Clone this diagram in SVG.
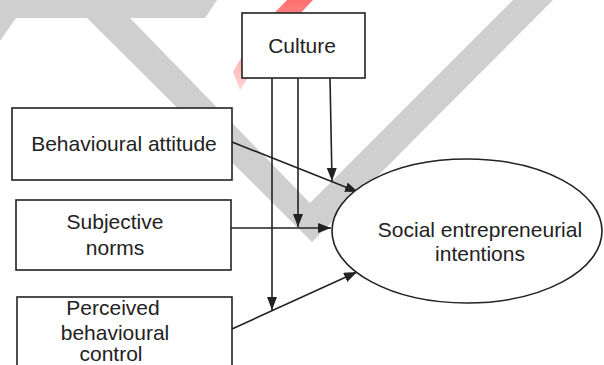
<svg xmlns="http://www.w3.org/2000/svg" width="604" height="365" viewBox="0 0 604 365">
<style>
.box{fill:#fff;stroke:#222;stroke-width:1.6}
.lbl{font-family:"Liberation Sans",Arial,sans-serif;font-size:21px;fill:#222;text-anchor:middle}
.con{stroke:#222;stroke-width:1.6;fill:none}
.wm{fill:#cfcfcf}
</style>
<defs>
<marker id="arr" markerUnits="userSpaceOnUse" markerWidth="14" markerHeight="11" refX="13" refY="5" orient="auto">
<path d="M0,0 L13,5 L0,10 z" fill="#222"/>
</marker>
<linearGradient id="red" x1="0" y1="1" x2="0" y2="0">
<stop offset="0" stop-color="#ffd6d6"/>
<stop offset="1" stop-color="#ff7070"/>
</linearGradient>
</defs>
<g id="watermark">
<polygon class="wm" points="0,0 217,0 205,18 0,18"/>
<polygon class="wm" points="0,41 16,18 0,18"/>
<polygon class="wm" points="87,18 130,18 310,203 513,0 553,0 312,242"/>
<polygon points="240,90 233,72 256,32 287,0 313,0 268,48" fill="url(#red)"/>
</g>
<g id="connectors">
<line class="con" x1="272" y1="78" x2="272" y2="310" marker-end="url(#arr)"/>
<line class="con" x1="298" y1="78" x2="298" y2="227" marker-end="url(#arr)"/>
<line class="con" x1="330" y1="78" x2="332" y2="181" marker-end="url(#arr)"/>
<line class="con" x1="232" y1="142" x2="358" y2="192" marker-end="url(#arr)"/>
<line class="con" x1="231" y1="228" x2="331" y2="228" marker-end="url(#arr)"/>
<line class="con" x1="232" y1="329" x2="357" y2="272" marker-end="url(#arr)"/>
</g>
<g id="culture">
<rect class="box" x="242" y="13" width="123" height="65"/>
<text class="lbl" x="302" y="53">Culture</text>
</g>
<g id="attitude">
<rect class="box" x="12" y="108" width="220" height="72"/>
<text class="lbl" x="124" y="151">Behavioural attitude</text>
</g>
<g id="norms">
<rect class="box" x="16" y="200" width="215" height="70"/>
<text class="lbl" x="115" y="229">Subjective</text>
<text class="lbl" x="115" y="255">norms</text>
</g>
<g id="control">
<rect class="box" x="17" y="297" width="215" height="90"/>
<text class="lbl" x="113" y="315">Perceived</text>
<text class="lbl" x="115" y="340">behavioural</text>
<text class="lbl" x="111" y="361">control</text>
</g>
<g id="intentions">
<ellipse class="box" cx="467" cy="231" rx="135" ry="72"/>
<text class="lbl" x="480" y="237">Social entrepreneurial</text>
<text class="lbl" x="480" y="261">intentions</text>
</g>
</svg>
